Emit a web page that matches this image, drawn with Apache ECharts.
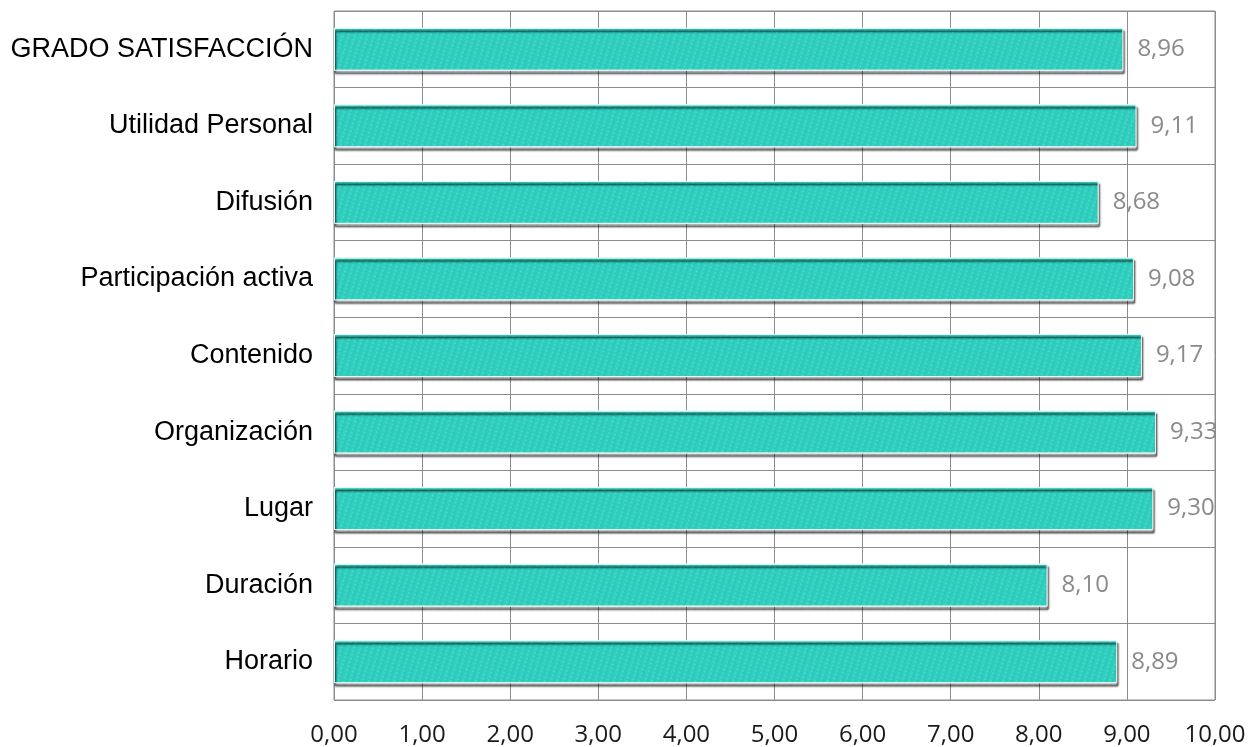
<!DOCTYPE html>
<html><head><meta charset="utf-8">
<script src="https://cdn.jsdelivr.net/npm/echarts@6/dist/echarts.min.js"></script>
<style>html,body{margin:0;padding:0;background:#fff}#c{width:1257px;height:747px}</style>
</head><body><div id="c"></div>
<script>
const categories = ["GRADO SATISFACCIÓN","Utilidad Personal","Difusión","Participación activa","Contenido","Organización","Lugar","Duración","Horario"];
const values = [8.96, 9.11, 8.68, 9.08, 9.17, 9.33, 9.30, 8.10, 8.89];
const xTicks = [0,1,2,3,4,5,6,7,8,9,10];

const fmt = v => v.toFixed(2).replace('.', ',');
const chart = echarts.init(document.getElementById('c'));
chart.setOption({
  animation: false,
  grid: {left: 334, right: 42, top: 11, bottom: 46, show: true, borderColor: '#8c8c8c', borderWidth: 1},
  xAxis: {
    type: 'value', min: 0, max: 10, interval: 1,
    axisLine: {show: false}, axisTick: {show: false},
    splitLine: {show: true, lineStyle: {color: '#8c8c8c', width: 1}},
    axisLabel: {margin: 23, fontFamily: 'Open Sans', fontSize: 24, color: '#1a1a1a', formatter: v => fmt(v)}
  },
  yAxis: {
    type: 'category', data: categories, inverse: true,
    axisLine: {show: false}, axisTick: {show: false},
    splitLine: {show: true, lineStyle: {color: '#8c8c8c', width: 1}},
    axisLabel: {margin: 21, fontFamily: 'Liberation Sans', fontSize: 27, color: '#000'}
  },
  series: [{
    type: 'bar', data: values, barWidth: 43,
    itemStyle: {
      color: '#2fd2c2', borderColor: '#e6f8f6', borderWidth: 1,
      shadowColor: 'rgba(0,0,0,0.25)', shadowBlur: 2, shadowOffsetX: 1, shadowOffsetY: 3,
      decal: {symbol: 'circle', symbolSize: 0.6, color: 'rgba(255,255,255,0.2)', dashArrayX: [4, 2], dashArrayY: [3, 1], rotation: 0.3}
    },
    label: {show: true, position: 'right', distance: 14, fontFamily: 'Open Sans', fontSize: 24, color: '#8a8a8a', formatter: p => fmt(p.value)}
  }]
});
</script></body></html>
